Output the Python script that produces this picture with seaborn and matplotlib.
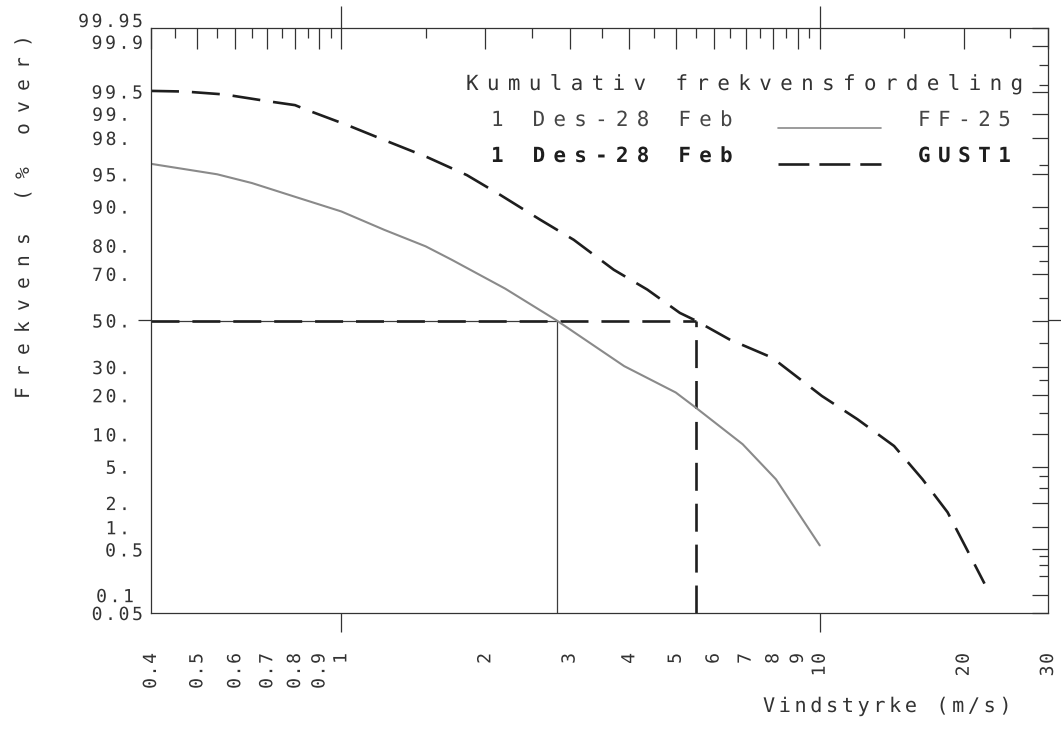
import numpy as np
import pandas as pd
import matplotlib
matplotlib.use("Agg")
import matplotlib.pyplot as plt
import matplotlib.patheffects as pe
from matplotlib.lines import Line2D
from matplotlib.path import Path
from matplotlib.transforms import Affine2D
from matplotlib.ticker import NullFormatter
import seaborn as sns
from statistics import NormalDist

# ---------------- data ----------------
ff_wind = [0.4, 0.55, 0.65, 0.8, 1.0, 1.23, 1.5, 1.7, 2.2, 2.82, 3.9, 5.0, 5.5, 6.9, 8.1, 10.0]
ff_pct = [96.1, 95.0, 93.9, 91.8, 89.0, 84.6, 79.8, 75.3, 64.0, 50.0, 30.4, 20.9, 16.4, 8.2, 3.7, 0.57]

gust_wind = [0.4, 0.47, 0.57, 0.7, 0.8, 0.85, 1.03, 1.25, 1.51, 1.83, 2.15, 2.6, 3.06,
             3.71, 4.36, 5.1, 5.5, 6.47, 7.95, 10.1, 12.0, 14.3, 16.4, 18.5, 20.1, 22.1]
gust_pct = [99.51, 99.5, 99.45, 99.32, 99.23, 99.1, 98.6, 97.8, 96.7, 94.9, 92.1, 87.2, 81.8,
            71.6, 63.6, 53.4, 50.0, 41.6, 33.8, 19.8, 13.3, 7.9, 3.7, 1.55, 0.57, 0.154]

median_pct = 50.0
ff_median = 2.82
gust_median = 5.5

x_ticks = [0.4, 0.5, 0.6, 0.7, 0.8, 0.9, 1, 2, 3, 4, 5, 6, 7, 8, 9, 10, 20, 30]
x_tick_labels = ["0.4", "0.5", "0.6", "0.7", "0.8", "0.9", "1", "2", "3", "4", "5",
                 "6", "7", "8", "9", "10", "20", "30"]
x_minor = [0.45, 0.55, 0.65, 0.75, 0.85, 0.95, 1.5, 2.5, 3.5, 4.5, 5.5, 6.5, 7.5, 8.5, 9.5, 15, 25]
x_decades = [1, 10]

y_ticks = [0.05, 0.1, 0.5, 1, 2, 5, 10, 20, 30, 50, 70, 80, 90, 95, 98, 99, 99.5, 99.9, 99.95]
y_tick_labels = ["0.05", "0.1", "0.5", "1.", "2.", "5.", "10.", "20.", "30.", "50.", "70.",
                 "80.", "90.", "95.", "98.", "99.", "99.5", "99.9", "99.95"]
y_minor = [0.2, 0.3, 0.4, 3, 4, 15, 25, 40, 60, 75, 85, 96, 99.6, 99.8]

legend_title = "Kumulativ frekvensfordeling"
period_label = "1 Des-28 Feb"
series_names = ["FF-25", "GUST1"]
x_label = "Vindstyrke (m/s)"
y_label = "Frekvens (% over)"

# ---------------- style ----------------
W, H = 1061, 743
INK = "#333333"
GRAY = "#8a8a8a"
DARK = "#1e1e1e"
sns.set_style("white")
plt.rcParams["font.family"] = ["DejaVu Sans Mono"]
plt.rcParams["text.color"] = INK
plt.rcParams["axes.labelcolor"] = INK

_nd = NormalDist()
_ppf = np.vectorize(_nd.inv_cdf, otypes=[float])
_cdf = np.vectorize(_nd.cdf, otypes=[float])


def prob_fwd(p):
    q = np.clip(np.asarray(p, dtype=float) / 100.0, 1e-9, 1 - 1e-9)
    return _ppf(q)


def prob_inv(z):
    return 100.0 * _cdf(np.asarray(z, dtype=float))


class Spaced(pe.AbstractPathEffect):
    """Widen the letter spacing of monospaced text (plotter look)."""

    def __init__(self, spread, anchor="start", dx=0.0, dy=0.0, advance=0.602):
        super().__init__()
        self.spread = spread
        self.anchor = anchor
        self.dx = dx
        self.dy = dy
        self.advance = advance

    def draw_path(self, renderer, gc, tpath, affine, rgbFace=None):
        verts = np.asarray(tpath.vertices, dtype=float)
        codes = tpath.codes
        if codes is not None and len(verts):
            cell = self.advance * 100.0
            out = verts.copy()
            starts = list(np.flatnonzero(codes == Path.MOVETO)) + [len(verts)]
            top = 0
            for a, b in zip(starts[:-1], starts[1:]):
                keep = codes[a:b] != Path.CLOSEPOLY
                xs = verts[a:b][keep, 0]
                if xs.size == 0:
                    continue
                k = int(np.floor(0.5 * (xs.min() + xs.max()) / cell))
                out[a:b, 0] += k * (self.spread - 1.0) * cell
                top = max(top, k)
            extra = top * (self.spread - 1.0) * cell
            if self.anchor == "end":
                out[:, 0] -= extra
            elif self.anchor == "center":
                out[:, 0] -= extra / 2.0
            tpath = Path(out, codes)
        renderer.draw_path(gc, tpath, affine + Affine2D().translate(self.dx, self.dy), rgbFace)


fig = plt.figure(figsize=(W / 100, H / 100), dpi=100)
fig.patch.set_facecolor("white")
L, R, T, B = 151, 1048, 28, 613
ax = fig.add_axes([L / W, 1 - B / H, (R - L) / W, (B - T) / H])
ax.set_xscale("log")
ax.set_yscale("function", functions=(prob_fwd, prob_inv))
ax.set_xlim(x_ticks[0], x_ticks[-1])
ax.set_ylim(y_ticks[0], y_ticks[-1])

dash = (0, (10.6, 4.9))

# reference lines for the medians
ref_h_ff = pd.DataFrame({"wind": [x_ticks[0], ff_median], "pct": [median_pct, median_pct]})
ref_v_ff = pd.DataFrame({"wind": [ff_median, ff_median], "pct": [y_ticks[0], median_pct]})
ref_h_g = pd.DataFrame({"wind": [x_ticks[0], gust_median], "pct": [median_pct, median_pct]})
ref_v_g = pd.DataFrame({"wind": [gust_median, gust_median], "pct": [y_ticks[0], median_pct]})
for d in (ref_h_ff, ref_v_ff):
    sns.lineplot(data=d, x="wind", y="pct", ax=ax, color="#3c3c3c", linewidth=0.9,
                 estimator=None, sort=False, errorbar=None, legend=False)
for d in (ref_h_g, ref_v_g):
    sns.lineplot(data=d, x="wind", y="pct", ax=ax, color=DARK, linewidth=1.9, linestyle=dash,
                 estimator=None, sort=False, errorbar=None, legend=False)

ff_df = pd.DataFrame({"wind": ff_wind, "pct": ff_pct})
gust_df = pd.DataFrame({"wind": gust_wind, "pct": gust_pct})
sns.lineplot(data=ff_df, x="wind", y="pct", ax=ax, color=GRAY, linewidth=1.5,
             estimator=None, sort=False, errorbar=None, legend=False)
sns.lineplot(data=gust_df, x="wind", y="pct", ax=ax, color=DARK, linewidth=1.9, linestyle=dash,
             estimator=None, sort=False, errorbar=None, legend=False)

ax.set_xlim(x_ticks[0], x_ticks[-1])
ax.set_ylim(y_ticks[0], y_ticks[-1])

# ---------------- ticks ----------------
ax.set_xticks(x_ticks, x_tick_labels, rotation=90)
ax.set_xticks(x_minor, minor=True)
ax.xaxis.set_minor_formatter(NullFormatter())
ax.set_yticks(y_ticks, y_tick_labels)
ax.set_yticks(y_minor, minor=True)
ax.yaxis.set_minor_formatter(NullFormatter())
ax.tick_params(which="both", direction="in", top=True, right=True, color=INK, width=0.9)
ax.tick_params(axis="x", which="major", length=15, pad=28.8, labelsize=13, labelcolor=INK)
ax.tick_params(axis="x", which="minor", length=7.2)
ax.tick_params(axis="y", which="major", length=11.5, pad=5.8, labelsize=13, labelcolor=INK)
ax.tick_params(axis="y", which="minor", length=6.5)
for s in ax.spines.values():
    s.set_color(INK)
    s.set_linewidth(0.9)

ident = (lambda v: v, lambda v: v)
for loc, ln in (("bottom", 13.7), ("top", 16.0)):
    sec = ax.secondary_xaxis(loc, functions=ident)
    sec.set_xticks(x_decades)
    sec.tick_params(axis="x", which="major", direction="out", length=ln, width=0.9, color=INK,
                    labelbottom=False, labeltop=False)
    sec.tick_params(axis="x", which="minor", length=0, labelbottom=False, labeltop=False)
    sec.spines[loc].set_visible(False)
for loc in ("left", "right"):
    sec = ax.secondary_yaxis(loc, functions=ident)
    sec.set_yticks([median_pct])
    sec.tick_params(axis="y", which="major", direction="out", length=9.5, width=0.9, color=INK,
                    labelleft=False, labelright=False)
    sec.tick_params(axis="y", which="minor", length=0, labelleft=False, labelright=False)
    sec.spines[loc].set_visible(False)

# ---------------- axis labels ----------------
ax.set_xlabel(x_label, fontsize=14.5, ha="left", va="baseline")
ax.xaxis.set_label_coords((763 - L) / (R - L), (B - 712) / (B - T))
ax.xaxis.label.set_path_effects([Spaced(1.3)])
ax.set_ylabel(y_label, fontsize=14, ha="left", va="baseline", rotation_mode="anchor")
ax.yaxis.set_label_coords((29 - L) / (R - L), (B - 399) / (B - T))
ax.yaxis.label.set_path_effects([Spaced(1.88)])

# ---------------- legend block ----------------
def fx(px):
    return px / W


def fy(py):
    return 1 - py / H


fig.text(fx(466), fy(90), legend_title, fontsize=15, ha="left", va="baseline", color=INK,
         path_effects=[Spaced(1.67)])
fig.text(fx(491), fy(126), period_label, fontsize=15, ha="left", va="baseline", color="#454545",
         path_effects=[Spaced(1.66)])
fig.text(fx(918), fy(126), series_names[0], fontsize=15, ha="left", va="baseline", color="#454545",
         path_effects=[Spaced(1.6)])
fig.text(fx(491), fy(162), period_label, fontsize=15, ha="left", va="baseline", color=DARK,
         fontweight="bold", path_effects=[Spaced(1.66)])
fig.text(fx(918), fy(162), series_names[1], fontsize=15, ha="left", va="baseline", color=DARK,
         fontweight="bold", path_effects=[Spaced(1.6)])
fig.add_artist(Line2D([fx(778), fx(881)], [fy(128), fy(128)], transform=fig.transFigure,
                      color=GRAY, linewidth=1.2))
fig.add_artist(Line2D([fx(778), fx(881)], [fy(164), fy(164)], transform=fig.transFigure,
                      color=DARK, linewidth=1.9, linestyle=(0, (11.7, 3.8))))

# ---------------- plotter-style spacing on tick labels ----------------
for t in ax.get_xticklabels():
    t.set_path_effects([Spaced(1.15, anchor="end")])
for t in ax.get_yticklabels():
    s = t.get_text()
    dx, dy = 0.0, 0.0
    if s.endswith(".") or s.endswith(":"):
        dx = -13.0
    elif s == "0.1":
        dx = -9.0
    if s == "99.95":
        dy = 8.0
    elif s == "99.9":
        dy = 4.0
    t.set_path_effects([Spaced(1.24, anchor="end", dx=dx, dy=dy)])

fig.savefig("out.png", dpi=100, facecolor="white")
